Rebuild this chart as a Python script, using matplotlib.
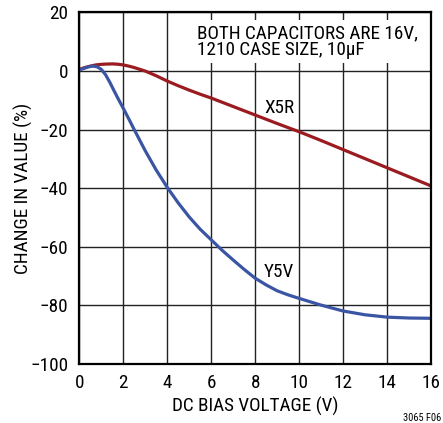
import matplotlib
matplotlib.use("Agg")
import matplotlib.pyplot as plt

plt.rcParams['font.family'] = ['Roboto Condensed', 'Archivo Narrow', 'Liberation Sans', 'DejaVu Sans']

x5r_v = [0, 0.25, 0.5, 0.75, 1, 1.25, 1.5, 1.75, 2, 2.25, 2.5, 2.75, 3, 3.5, 4, 4.5, 5, 5.5, 6, 7, 8, 9, 10, 11, 12, 13, 14, 15, 16]
x5r_c = [0.6, 1.2, 1.7, 2.1, 2.3, 2.4, 2.45, 2.35, 2.1, 1.7, 1.2, 0.6, 0.0, -1.6, -3.4, -5.0, -6.5, -7.9, -9.2, -12.1, -15.0, -17.9, -20.7, -23.7, -26.8, -29.9, -33.0, -36.1, -39.2]
y5v_v = [0, 0.2, 0.4, 0.6, 0.8, 1.0, 1.2, 1.4, 1.6, 1.8, 2.0, 2.25, 2.5, 2.75, 3.0, 3.5, 4.0, 4.5, 5.0, 5.5, 6.0, 6.5, 7.0, 7.5, 8.0, 8.5, 9.0, 9.5, 10, 11, 12, 13, 14, 15, 16]
y5v_c = [0.4, 0.9, 1.4, 1.7, 1.5, 0.6, -1.3, -4.0, -7.0, -9.9, -12.7, -16.3, -20.0, -23.6, -27.2, -33.8, -39.7, -45.0, -49.8, -54.0, -57.6, -61.2, -64.5, -67.7, -70.7, -73.0, -75.0, -76.4, -77.6, -79.9, -81.9, -83.2, -84.0, -84.3, -84.4]

x_ticks = [0, 2, 4, 6, 8, 10, 12, 14, 16]
y_ticks = [-100, -80, -60, -40, -20, 0, 20]

FS = 13.8

fig = plt.figure(figsize=(4.43, 4.23), dpi=100)
ax = fig.add_axes([79.3/443, 1 - 364/423, (431 - 79.3)/443, (364 - 12.5)/423])
ax.set_xlim(0, 16)
ax.set_ylim(-100, 20)
ax.set_xticks(x_ticks)
ax.set_yticks(y_ticks)
ax.set_yticklabels([str(t).replace('-', '\u2212') for t in y_ticks])
ax.tick_params(axis='x', length=0, labelsize=FS, pad=7)
ax.tick_params(axis='y', length=0, labelsize=FS, pad=8)
ax.grid(True, color='#222222', lw=1.0)
ax.set_axisbelow(True)
for s in ax.spines.values():
    s.set_linewidth(1.6)
    s.set_color('black')

ax.plot(x5r_v, x5r_c, color='#9B1C20', lw=2.3, solid_capstyle='butt')
ax.plot(y5v_v, y5v_c, color='#3B55A5', lw=2.3, solid_capstyle='butt')

ax.text(9.1, -12.6, 'X5R', fontsize=FS, ha='center', va='center')
ax.text(9.1, -68.6, 'Y5V', fontsize=FS, ha='center', va='center')
ax.text(5.35, 10.0, 'BOTH CAPACITORS ARE 16V,\n1210 CASE SIZE, 10\u00b5F', fontsize=FS,
        ha='left', va='center', linespacing=0.9,
        bbox=dict(facecolor='white', edgecolor='none', pad=3))

ax.set_xlabel('DC BIAS VOLTAGE (V)', fontsize=FS, labelpad=4)
ax.set_ylabel('CHANGE IN VALUE (%)', fontsize=FS)
ax.yaxis.set_label_coords((33 - 79.3) / 351.7, 0.5)
fig.text(422/443, 1 - 418/423, '3065 F06', fontsize=7.5, ha='center', va='center')

fig.savefig('out.png', dpi=100)
